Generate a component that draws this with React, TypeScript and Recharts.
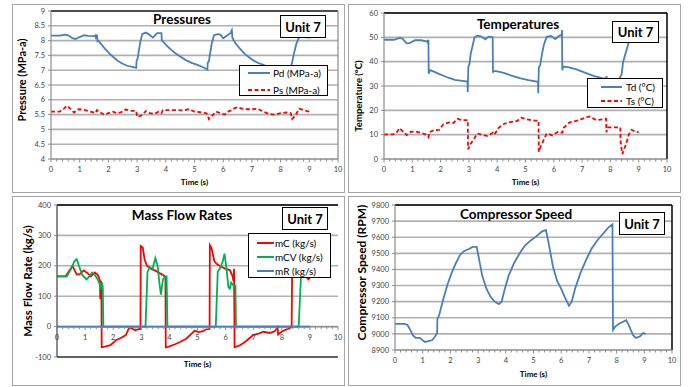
import { LineChart, Line, XAxis, YAxis, CartesianGrid, Legend, ReferenceLine } from 'recharts';

const FONT = 'Lato, "Open Sans", Arial, sans-serif';
const BLUE = '#4a7ebb';
const RED = '#ff0000';
const GREEN = '#00b050';
const GRID = '#b0b0b0';
const AXIS = '#8c8c8c';
const INK = '#404040';

// time axis: labels every second, small marks every 0.2 s
const timeTicks = Array.from({ length: 51 }, (_, i) => i / 5);

const pressureTicks = [4, 4.5, 5, 5.5, 6, 6.5, 7, 7.5, 8, 8.5, 9];
const tempTicks = [0, 10, 20, 30, 40, 50, 60];
const flowTicks = [-100, 0, 100, 200, 300, 400];
const speedTicks = [8900, 9000, 9100, 9200, 9300, 9400, 9500, 9600, 9700, 9800];

// [time (s), value]
const pd = [
  [0, 8.17], [0.3, 8.17], [0.5, 8.2], [0.6, 8.18], [0.75, 8.08], [0.85, 8.05], [1.0, 8.12], [1.15, 8.18],
  [1.3, 8.16], [1.5, 8.15], [1.55, 8.18], [1.57, 8.05], [1.6, 8.2], [1.62, 7.98], [1.65, 8.0], [1.75, 7.88],
  [1.9, 7.7], [2.05, 7.55], [2.2, 7.42], [2.35, 7.3], [2.5, 7.22], [2.65, 7.15], [2.8, 7.12], [2.97, 7.08],
  [2.98, 7.3], [3.0, 7.35], [3.02, 7.4], [3.1, 7.9], [3.18, 8.22], [3.3, 8.27], [3.4, 8.22], [3.55, 8.1],
  [3.7, 8.25], [3.85, 8.25], [3.86, 8.0], [3.9, 7.97], [4.0, 7.86], [4.15, 7.72], [4.3, 7.6], [4.5, 7.46],
  [4.7, 7.34], [4.9, 7.25], [5.1, 7.18], [5.3, 7.1], [5.45, 7.02], [5.46, 7.25], [5.5, 7.3], [5.6, 7.9],
  [5.68, 8.18], [5.8, 8.22], [5.9, 8.2], [6.0, 8.08], [6.1, 8.15], [6.25, 8.25], [6.3, 8.35], [6.32, 8.1],
  [6.4, 7.95], [6.55, 7.76], [6.75, 7.55], [7.0, 7.36], [7.2, 7.25], [7.42, 7.17], [7.6, 7.1], [7.8, 7.05],
  [8.0, 7.02], [8.2, 7.0], [8.35, 7.02], [8.45, 7.5], [8.55, 7.9], [8.65, 8.12], [8.8, 8.12], [9.05, 8.1],
];
const ps = [
  [0, 5.6], [0.3, 5.6], [0.45, 5.7], [0.55, 5.8], [0.65, 5.72], [0.8, 5.57], [0.95, 5.68], [1.1, 5.67],
  [1.3, 5.62], [1.45, 5.58], [1.55, 5.55], [1.6, 5.65], [1.7, 5.58], [1.85, 5.5], [2.0, 5.55], [2.15, 5.6],
  [2.3, 5.55], [2.45, 5.58], [2.6, 5.67], [2.8, 5.63], [2.97, 5.62], [3.0, 5.42], [3.1, 5.45], [3.2, 5.5],
  [3.3, 5.62], [3.45, 5.55], [3.6, 5.52], [3.75, 5.6], [3.85, 5.55], [3.9, 5.65], [4.1, 5.65], [4.4, 5.65],
  [4.6, 5.64], [4.8, 5.68], [5.0, 5.6], [5.2, 5.58], [5.4, 5.55], [5.45, 5.5], [5.5, 5.35], [5.6, 5.45],
  [5.75, 5.6], [5.9, 5.55], [6.05, 5.5], [6.2, 5.62], [6.3, 5.65], [6.4, 5.72], [6.5, 5.75], [6.65, 5.7],
  [6.8, 5.68], [7.0, 5.68], [7.2, 5.7], [7.4, 5.6], [7.6, 5.52], [7.8, 5.5], [8.0, 5.55], [8.2, 5.57],
  [8.35, 5.55], [8.4, 5.35], [8.5, 5.45], [8.65, 5.7], [8.8, 5.65], [9.0, 5.6],
];

const td = [
  [0, 49], [0.35, 49], [0.55, 49.8], [0.65, 49.5], [0.8, 47.5], [0.9, 47.6], [1.1, 48.8], [1.3, 48.8],
  [1.5, 48.3], [1.54, 48], [1.55, 49], [1.56, 47], [1.57, 49], [1.58, 35], [1.62, 36.5], [1.7, 36.2],
  [1.9, 35.2], [2.1, 34.2], [2.3, 33.3], [2.5, 32.5], [2.7, 32.2], [2.95, 31.8], [2.96, 27.5], [2.98, 38],
  [3.02, 39], [3.06, 43], [3.12, 46], [3.2, 50], [3.3, 50.7], [3.45, 50.3], [3.58, 49.2], [3.7, 50.3],
  [3.84, 50], [3.85, 35.5], [3.88, 36.2], [4.0, 36], [4.2, 35.5], [4.5, 34.3], [4.8, 33.2], [5.1, 32.4],
  [5.44, 31.7], [5.45, 27], [5.47, 37.5], [5.52, 38.5], [5.58, 43], [5.65, 47], [5.75, 50.2], [5.9, 50.6],
  [6.05, 49.3], [6.2, 50.7], [6.28, 51], [6.29, 53], [6.3, 36.5], [6.33, 38], [6.5, 37.8], [6.8, 36.8],
  [7.1, 35.5], [7.4, 34.2], [7.7, 33.2], [7.85, 33], [7.86, 34], [7.88, 32.8], [8.1, 32.5], [8.3, 32.5],
  [8.4, 35], [8.45, 40], [8.55, 44], [8.65, 48], [8.75, 49.5], [9.0, 49.5],
];
const ts = [
  [0, 10], [0.35, 10.2], [0.45, 11], [0.55, 12.7], [0.65, 11.5], [0.8, 9.8], [0.95, 11.2], [1.1, 11.3],
  [1.3, 10.8], [1.5, 10], [1.57, 9], [1.6, 11], [1.75, 11.8], [1.95, 12], [2.1, 14.3], [2.3, 15],
  [2.45, 14.8], [2.6, 16.5], [2.75, 16], [2.96, 16], [2.97, 4], [3.05, 6], [3.3, 10.5], [3.5, 9.8],
  [3.65, 9.5], [3.85, 10.8], [3.9, 10], [4.05, 12.8], [4.25, 14.5], [4.5, 15.3], [4.7, 15.6], [4.85, 17],
  [5.05, 16.3], [5.3, 15.8], [5.46, 15.8], [5.47, 3], [5.55, 5.5], [5.75, 10.5], [5.95, 9.7], [6.15, 11.2],
  [6.3, 10.8], [6.35, 12.8], [6.55, 15], [6.8, 15.7], [7.0, 16.5], [7.25, 17.5], [7.5, 16], [7.85, 16.5],
  [7.86, 11], [7.9, 13], [8.35, 13], [8.36, 7], [8.42, 2], [8.55, 6], [8.65, 10], [8.75, 12], [8.9, 11.2],
  [9.0, 11],
];

const mC = [
  [0, 165], [0.3, 165], [0.45, 185], [0.55, 200], [0.7, 172], [0.8, 172], [0.95, 185], [1.1, 175],
  [1.2, 165], [1.35, 178], [1.45, 170], [1.5, 160], [1.53, 150], [1.54, 90], [1.56, 150], [1.58, 140],
  [1.59, -68], [1.7, -66], [1.9, -61], [2.1, -45], [2.3, -36], [2.45, -28], [2.55, -7], [2.65, -5],
  [2.78, -12], [2.9, -8], [2.97, -8], [2.98, 265], [3.05, 260], [3.12, 220], [3.2, 200], [3.35, 190],
  [3.5, 184], [3.65, 176], [3.8, 168], [3.86, 162], [3.87, -68], [4.0, -65], [4.2, -58], [4.4, -50],
  [4.6, -40], [4.8, -22], [4.9, -13], [5.03, -18], [5.2, -15], [5.3, -9], [5.43, -8], [5.44, 268],
  [5.5, 258], [5.6, 215], [5.7, 205], [5.85, 197], [6.0, 190], [6.15, 186], [6.25, 165], [6.28, 150],
  [6.3, 190], [6.32, -68], [6.5, -62], [6.7, -50], [6.98, -28], [7.2, -22], [7.34, -17], [7.57, -21],
  [7.75, -15], [7.85, -2], [7.87, -26], [8.0, -16], [8.17, -9], [8.35, -2], [8.37, 200], [8.5, 200],
  [8.8, 170], [8.95, 155], [9.0, 160],
];
const mCV = [
  [0, 165], [0.35, 165], [0.5, 190], [0.62, 215], [0.7, 222], [0.8, 195], [0.9, 170], [1.05, 155],
  [1.15, 165], [1.25, 178], [1.35, 170], [1.45, 155], [1.52, 140], [1.56, 128], [1.6, 145], [1.63, 130],
  [1.65, 0], [3.15, 0], [3.22, 180], [3.3, 195], [3.4, 190], [3.5, 225], [3.58, 200], [3.65, 140],
  [3.7, 105], [3.77, 155], [3.85, 165], [3.9, 165], [3.93, 0], [5.65, 0], [5.72, 180], [5.82, 195],
  [5.9, 215], [5.96, 240], [6.02, 200], [6.1, 130], [6.15, 125], [6.2, 145], [6.28, 135], [6.35, 135],
  [6.37, 0], [8.6, 0], [8.68, 160], [8.75, 170], [9.0, 165],
];
const mR = [[0, 0], [9.0, 0]];

const speed = [
  [0, 9062], [0.35, 9062], [0.45, 9055], [0.55, 9025], [0.65, 8990], [0.75, 8975], [0.9, 8975], [1.0, 8960],
  [1.08, 8950], [1.2, 8955], [1.35, 8962], [1.45, 8985], [1.52, 9005], [1.53, 9090], [1.6, 9120],
  [1.75, 9220], [1.9, 9310], [2.05, 9380], [2.2, 9440], [2.35, 9490], [2.5, 9515], [2.65, 9525],
  [2.8, 9540], [2.95, 9540], [3.05, 9450], [3.15, 9360], [3.3, 9280], [3.45, 9230], [3.6, 9200],
  [3.75, 9185], [3.85, 9200], [3.95, 9270], [4.1, 9360], [4.3, 9440], [4.5, 9500], [4.7, 9550],
  [4.9, 9580], [5.1, 9605], [5.3, 9635], [5.45, 9645], [5.55, 9560], [5.7, 9420], [5.85, 9330],
  [6.0, 9280], [6.15, 9220], [6.28, 9175], [6.38, 9200], [6.5, 9280], [6.7, 9380], [6.9, 9460],
  [7.1, 9530], [7.3, 9580], [7.5, 9620], [7.7, 9660], [7.85, 9680], [7.87, 9025], [7.95, 9045],
  [8.1, 9065], [8.35, 9085], [8.45, 9050], [8.6, 8990], [8.7, 8975], [8.85, 8985], [8.95, 9005], [9.05, 9000],
];

const rows = (pts: number[][]) => pts.map(([t, v]) => ({ t, v }));

type Series = { name: string; pts: number[][]; color: string; dash?: string };

const TimeTick = ({ x, y, payload, lift }: any) => {
  const v = payload.value as number;
  const major = Math.abs(v - Math.round(v)) < 1e-6;
  return (
    <g transform={`translate(${x},${y - lift})`}>
      <line x1={0} x2={0} y1={0} y2={major ? 3.5 : 2.5} stroke={AXIS} />
      {major && (
        <text y={13} textAnchor="middle" fontSize={7.5} fill={INK} fontFamily={FONT}>
          {Math.round(v)}
        </text>
      )}
    </g>
  );
};

const BoxLegend = ({ spec, series }: any) => (
  <div
    style={{
      boxSizing: 'border-box', width: spec.width, height: spec.height, border: '1px solid #000',
      background: '#fff', paddingTop: spec.padTop, paddingLeft: spec.padLeft, fontFamily: FONT,
      fontSize: 10, color: '#000',
    }}
  >
    {series.map((s: Series) => (
      <div key={s.name} style={{ display: 'flex', alignItems: 'center', height: spec.rowH, marginBottom: spec.gap }}>
        <svg width={spec.sample} height={4} style={{ display: 'block' }}>
          <line x1={0} y1={2} x2={spec.sample} y2={2} stroke={s.color} strokeWidth={2} strokeDasharray={s.dash} />
        </svg>
        <span style={{ marginLeft: spec.textGap, whiteSpace: 'nowrap', lineHeight: 1 }}>{s.name}</span>
      </div>
    ))}
  </div>
);

const panels = [
  {
    box: { left: 12, top: 4, width: 334, height: 189 },
    margin: { top: 7, right: 8, left: 9, bottom: 0 },
    xHeight: 34, timeOffset: 8, lift: 0,
    yDomain: [4, 9], yTicks: pressureTicks,
    yLabel: 'Pressure (MPa-a)', yLabelSize: 11, yLabelOffset: 1, yLabelDy: -5,
    frameTop: '#262626', frameRight: '#a0a0a0', yAxisColor: AXIS, xAxisColor: AXIS,
    series: [
      { name: 'Pd (MPa-a)', pts: pd, color: BLUE },
      { name: 'Ps (MPa-a)', pts: ps, color: RED, dash: '4 2.5' },
    ],
    legend: { left: 227, top: 61, width: 89, height: 31, padTop: 0, rowH: 14, gap: 3, padLeft: 8, sample: 22, textGap: 3 },
    title: 'Pressures', titleX: 182, titleY: 20,
    unit: { left: 280, top: 15, width: 46, height: 23 },
  },
  {
    box: { left: 348, top: 4, width: 333, height: 189 },
    margin: { top: 9, right: 14, left: 6, bottom: 0 },
    xHeight: 34, timeOffset: 8, lift: 0,
    yDomain: [0, 60], yTicks: tempTicks,
    yLabel: 'Temperature (°C)', yLabelSize: 9.5, yLabelOffset: 5, yLabelDy: 10,
    frameTop: '#000', frameRight: '#000', yAxisColor: AXIS, xAxisColor: AXIS,
    series: [
      { name: 'Td (°C)', pts: td, color: BLUE },
      { name: 'Ts (°C)', pts: ts, color: RED, dash: '4 2.5' },
    ],
    legend: { left: 239, top: 74, width: 76, height: 30, padTop: 2, rowH: 12, gap: 1.5, padLeft: 13, sample: 21, textGap: 4 },
    title: 'Temperatures', titleX: 518, titleY: 25,
    unit: { left: 612, top: 21, width: 47, height: 22 },
  },
  {
    box: { left: 12, top: 196, width: 334, height: 190 },
    margin: { top: 9, right: 8, left: 15, bottom: 0 },
    xHeight: 29, timeOffset: 19, lift: 152 * 0.2,
    yDomain: [-100, 400], yTicks: flowTicks,
    yLabel: 'Mass Flow Rate (kg/s)', yLabelSize: 11.5, yLabelOffset: 1, yLabelDy: 0,
    frameTop: '#000', frameRight: undefined, yAxisColor: '#404040', xAxisColor: '#000',
    zeroLine: true,
    series: [
      { name: 'mC (kg/s)', pts: mC, color: RED },
      { name: 'mCV (kg/s)', pts: mCV, color: GREEN },
      { name: 'mR (kg/s)', pts: mR, color: BLUE },
    ],
    legend: { left: 236, top: 37, width: 83, height: 45, padTop: 3, rowH: 12, gap: 2, padLeft: 8, sample: 17, textGap: 1 },
    title: 'Mass Flow Rates', titleX: 182, titleY: 216,
    unit: { left: 282, top: 207, width: 46, height: 23 },
  },
  {
    box: { left: 348, top: 196, width: 333, height: 190 },
    margin: { top: 9, right: 9, left: 17, bottom: 0 },
    xHeight: 36, timeOffset: 9, lift: 0,
    yDomain: [8900, 9800], yTicks: speedTicks,
    yLabel: 'Compressor Speed (RPM)', yLabelSize: 12, yLabelOffset: -3, yLabelDy: -5,
    frameTop: '#000', frameRight: '#000', yAxisColor: AXIS, xAxisColor: AXIS,
    series: [{ name: 'Speed (RPM)', pts: speed, color: BLUE }],
    legend: undefined,
    title: 'Compressor Speed', titleX: 516, titleY: 215,
    unit: { left: 619, top: 212, width: 46, height: 23 },
  },
];

const cells = [
  { left: 12, top: 4, right: 345, bottom: 193 },
  { left: 348, top: 4, right: 681, bottom: 193 },
  { left: 12, top: 196, right: 345, bottom: 386 },
  { left: 348, top: 196, right: 681, bottom: 386 },
];

export default function App() {
  return (
    <div style={{ position: 'absolute', left: 0, top: 0, width: 688, height: 387, background: '#fff', fontFamily: FONT }}>
      {cells.map((c, i) => (
        <div
          key={i}
          style={{
            position: 'absolute', left: c.left, top: c.top, width: c.right - c.left, height: c.bottom - c.top,
            boxSizing: 'border-box', border: '1.5px solid #a6a6a6',
          }}
        />
      ))}

      {panels.map((p, i) => (
        <div key={i} style={{ position: 'absolute', left: p.box.left, top: p.box.top }}>
          <LineChart width={p.box.width} height={p.box.height} margin={p.margin}>
            <CartesianGrid vertical={false} stroke={GRID} strokeWidth={1.6} />
            <XAxis
              dataKey="t"
              type="number"
              domain={[0, 10]}
              ticks={timeTicks}
              interval={0}
              allowDataOverflow
              height={p.xHeight}
              tickLine={false}
              tickSize={0}
              tickMargin={0}
              axisLine={{ stroke: p.xAxisColor, strokeWidth: 1.2 }}
              tick={(props: any) => <TimeTick {...props} lift={p.lift} />}
              label={{
                value: 'Time (s)', position: 'insideBottom', offset: p.timeOffset,
                style: { fontSize: 8, fontWeight: 700, fill: '#000', fontFamily: FONT },
              }}
            />
            <YAxis
              type="number"
              domain={p.yDomain}
              ticks={p.yTicks}
              interval={0}
              allowDataOverflow
              width={30}
              tickSize={3}
              tickMargin={3}
              tickLine={{ stroke: AXIS }}
              axisLine={{ stroke: p.yAxisColor, strokeWidth: 1.2 }}
              tick={{ fontSize: 7.5, fill: INK, fontFamily: FONT }}
              label={{
                value: p.yLabel, angle: -90, position: 'insideLeft', offset: p.yLabelOffset, dy: p.yLabelDy,
                style: { textAnchor: 'middle', fontSize: p.yLabelSize, fontWeight: 700, fill: '#000', fontFamily: FONT },
              }}
            />
            {p.zeroLine && <ReferenceLine y={0} stroke={AXIS} strokeWidth={1.2} />}
            <ReferenceLine y={p.yDomain[1]} stroke={p.frameTop} strokeWidth={1.5} />
            {p.frameRight && <ReferenceLine x={10} stroke={p.frameRight} strokeWidth={1.5} />}
            {p.series.map((s) => (
              <Line
                key={s.name}
                data={rows(s.pts)}
                dataKey="v"
                name={s.name}
                type="linear"
                stroke={s.color}
                strokeWidth={1.8}
                strokeDasharray={s.dash}
                dot={false}
                activeDot={false}
                isAnimationActive={false}
              />
            ))}
            {p.legend && (
              <Legend
                layout="vertical"
                align="center"
                verticalAlign="middle"
                wrapperStyle={{ left: p.legend.left, top: p.legend.top, width: p.legend.width, height: p.legend.height }}
                content={() => <BoxLegend spec={p.legend} series={p.series} />}
              />
            )}
          </LineChart>
        </div>
      ))}

      {panels.map((p, i) => (
        <div
          key={`t${i}`}
          style={{
            position: 'absolute', left: p.titleX, top: p.titleY, transform: 'translate(-50%, -50%)',
            fontSize: 13.5, fontWeight: 700, color: '#000', whiteSpace: 'nowrap', lineHeight: 1,
          }}
        >
          {p.title}
        </div>
      ))}

      {panels.map((p, i) => (
        <div
          key={`u${i}`}
          style={{
            position: 'absolute', left: p.unit.left, top: p.unit.top, width: p.unit.width, height: p.unit.height,
            boxSizing: 'border-box', border: '1.5px solid #000', background: '#fff', display: 'flex',
            alignItems: 'center', justifyContent: 'center', fontSize: 13, fontWeight: 700, color: '#000',
          }}
        >
          Unit 7
        </div>
      ))}
    </div>
  );
}
